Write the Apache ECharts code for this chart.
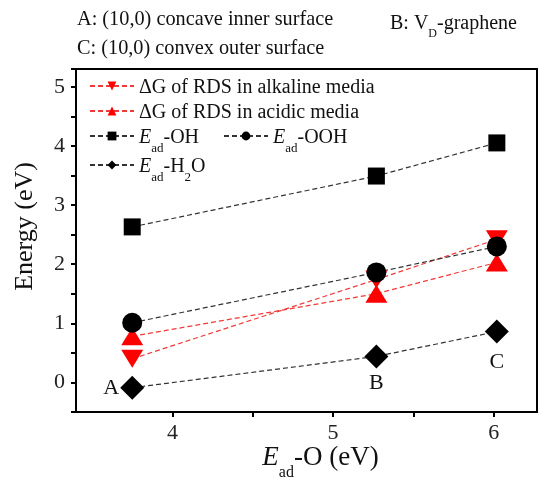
<!DOCTYPE html>
<html>
<head>
<meta charset="utf-8">
<script src="https://cdn.jsdelivr.net/npm/echarts@6/dist/echarts.min.js"></script>
<style>
  html, body { margin: 0; padding: 0; background: #fff; }
  #chart { width: 543px; height: 478px; }
</style>
</head>
<body>
<div id="chart"></div>
<script>
// E_ad-O of the three sites (A, B, C)
const eadO = [3.75, 5.27, 6.02];
const siteNames = ['A', 'B', 'C'];
// energies (eV)
const dgAlkaline = [0.40, 1.74, 2.42];
const dgAcidic = [0.78, 1.50, 2.03];
const eadOH = [2.63, 3.49, 4.05];
const eadOOH = [1.01, 1.86, 2.30];
const eadH2O = [-0.09, 0.44, 0.86];
// axis ticks
const xTicks = [4, 4.5, 5, 5.5, 6];
const xLabels = [4, 5, 6];

const serif = 'Liberation Serif';
const red = '#ff0000';
const black = '#000';

function pts(ys) {
    return eadO.map((x, i) => [x, ys[i]]);
}

const subRich = {
    n: { fontFamily: serif, fontSize: 20, color: '#111', lineHeight: 24, verticalAlign: 'bottom' },
    i: { fontFamily: serif, fontSize: 20, color: '#111', fontStyle: 'italic', lineHeight: 24, verticalAlign: 'bottom' },
    s: { fontFamily: serif, fontSize: 13, color: '#111', lineHeight: 24, verticalAlign: 'bottom', padding: [0, 0, -7, 0] }
};

const legendText = {
    'alk': '{n|ΔG of RDS in alkaline media}',
    'acid': '{n|ΔG of RDS in acidic media}',
    'oh': '{i|E}{s|ad}{n|-OH}',
    'ooh': '{i|E}{s|ad}{n|-OOH}',
    'h2o': '{i|E}{s|ad}{n|-H}{s|2}{n|O}'
};

function legend(name, left, top) {
    return {
        data: [name],
        left: left,
        top: top,
        itemWidth: 44,
        itemHeight: 11,
        itemGap: 4,
        selectedMode: false,
        formatter: n => legendText[n],
        textStyle: { rich: subRich }
    };
}

function lineSeries(name, data, color, symbol, size, lineColor) {
    return {
        name: name,
        type: 'line',
        data: data,
        symbol: symbol,
        symbolSize: size,
        itemStyle: { color: color },
        lineStyle: { color: lineColor, width: 1.2, type: [5, 3] },
        emphasis: { disabled: true },
        z: 2
    };
}

const titleStyle = { fontFamily: serif, fontSize: 20.3, fontWeight: 'normal', color: '#111' };

const chart = echarts.init(document.getElementById('chart'));

const option = {
    animation: false,
    title: [
        {
            text: 'A: (10,0) concave inner surface',
            left: 72, top: 5,
            textStyle: titleStyle
        },
        {
            text: '{n|B: V}{s|D}{n|-graphene}',
            left: 385, top: 3,
            textStyle: {
                rich: {
                    n: { fontFamily: serif, fontSize: 20, fontWeight: 'normal', color: '#111', lineHeight: 26, verticalAlign: 'bottom' },
                    s: { fontFamily: serif, fontSize: 12, fontWeight: 'normal', color: '#111', lineHeight: 26, verticalAlign: 'bottom', padding: [0, 0, -6, 0] }
                }
            }
        },
        {
            text: 'C: (10,0) convex outer surface',
            left: 72, top: 34,
            textStyle: titleStyle
        }
    ],
    legend: [
        legend('alk', 84, 73),
        legend('acid', 84, 98),
        legend('oh', 84, 123),
        legend('ooh', 218, 123),
        legend('h2o', 84, 152)
    ],
    grid: {
        left: 76, right: 6, top: 69, bottom: 66,
        outerBoundsMode: 'none',
        show: true, borderColor: black, borderWidth: 2
    },
    xAxis: {
        type: 'value',
        min: 3.4, max: 6.27,
        name: '{i|E}{s|ad}{n|-O (eV)}',
        nameLocation: 'middle',
        nameMoveOverlap: false,
        nameGap: 27,
        nameTextStyle: {
            padding: [0, 0, 0, 28],
            rich: {
                n: { fontFamily: serif, fontSize: 27, color: '#111', lineHeight: 32, verticalAlign: 'bottom' },
                i: { fontFamily: serif, fontSize: 27, color: '#111', fontStyle: 'italic', lineHeight: 32, verticalAlign: 'bottom' },
                s: { fontFamily: serif, fontSize: 16, color: '#111', lineHeight: 32, verticalAlign: 'bottom', padding: [0, 0, -10, 0] }
            }
        },
        axisLine: { onZero: false, lineStyle: { color: black, width: 2 } },
        axisTick: { customValues: xTicks, length: 5, lineStyle: { color: black, width: 2 } },
        axisLabel: { customValues: xLabels, margin: 10, fontFamily: serif, fontSize: 22, color: '#222' },
        splitLine: { show: false }
    },
    yAxis: {
        type: 'value',
        min: -0.5, max: 5.3,
        interval: 0.5,
        name: 'Energy (eV)',
        nameLocation: 'middle',
        nameGap: 38,
        nameTextStyle: { fontFamily: serif, fontSize: 26, color: '#111', padding: [0, 0, 0, 28] },
        axisLine: { onZero: false, lineStyle: { color: black, width: 2 } },
        axisTick: { length: 5, lineStyle: { color: black, width: 2 } },
        axisLabel: {
            margin: 11, fontFamily: serif, fontSize: 22, color: '#222',
            formatter: v => (Math.abs(v % 1) < 1e-9 ? String(v) : '')
        },
        splitLine: { show: false }
    },
    series: [
        lineSeries('alk', pts(dgAlkaline), red, 'path://M0,0L1,0L0.5,1Z', [22, 18], '#f03a3a'),
        lineSeries('acid', pts(dgAcidic), red, 'path://M0,1L0.5,0L1,1Z', [22, 18], '#f03a3a'),
        lineSeries('oh', pts(eadOH), black, 'rect', 17, '#333'),
        lineSeries('ooh', pts(eadOOH), black, 'circle', 20, '#333'),
        Object.assign(lineSeries('h2o', pts(eadH2O), black, 'diamond', 24, '#333'), {
            label: {
                show: true,
                fontFamily: serif, fontSize: 22, color: '#111',
                formatter: p => siteNames[p.dataIndex],
                position: 'bottom', distance: 4
            },
            data: pts(eadH2O).map((d, i) => {
                if (i === 0) return { value: d, label: { position: 'left', distance: 1, padding: [14, 0, 0, 0] } };
                if (i === 2) return { value: d, label: { distance: 8 } };
                return { value: d };
            })
        })
    ]
};

chart.setOption(option);
</script>
</body>
</html>
